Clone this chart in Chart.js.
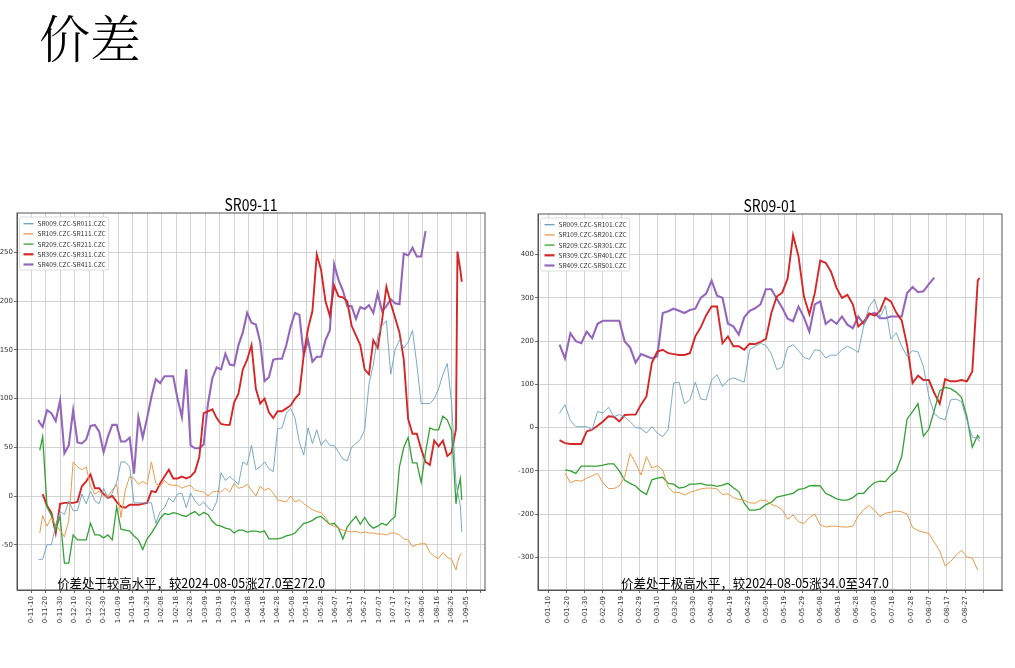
<!DOCTYPE html>
<html>
<head>
<meta charset="utf-8">
<script src="https://cdn.jsdelivr.net/npm/chart.js@4.4.1/dist/chart.umd.min.js"></script>
<style>
  body { margin: 0; width: 1015px; height: 668px; background: #fff; position: relative; overflow: hidden; }
  #title { position: absolute; left: 39px; top: 11px; font-family: "Noto Serif CJK SC", "Noto Sans CJK SC", serif; font-size: 51px; font-weight: 300; line-height: 1; color: #000; }
  canvas { position: absolute; }
  #c1 { left: 0; top: 190px; }
  #c2 { left: 510px; top: 190px; }
</style>
</head>
<body>
<div id="title">价差</div>
<canvas id="c1" width="500" height="450"></canvas>
<canvas id="c2" width="505" height="450"></canvas>
<script>
const CJK = '"Noto Sans CJK SC", sans-serif';

// ---- SR09-11 : days counted from 0-11-10 ----
const labels1 = ['SR009.CZC-SR011.CZC', 'SR109.CZC-SR111.CZC', 'SR209.CZC-SR211.CZC', 'SR309.CZC-SR311.CZC', 'SR409.CZC-SR411.CZC'];
const ticks1 = ['0-11-10', '0-11-20', '0-11-30', '0-12-10', '0-12-20', '0-12-30', '1-01-09', '1-01-19', '1-01-29', '1-02-08',
  '1-02-18', '1-02-28', '1-03-09', '1-03-19', '1-03-29', '1-04-08', '1-04-18', '1-04-28', '1-05-08', '1-05-18',
  '1-05-28', '1-06-07', '1-06-17', '1-06-27', '1-07-07', '1-07-17', '1-07-27', '1-08-06', '1-08-16', '1-08-26', '1-09-05'];
const yTicks1 = [-50, 0, 50, 100, 150, 200, 250];
const days1 = [
  5, 6, 8, 11, 14, 17, 20, 23, 26, 29,
  32, 35, 38, 41, 44, 47, 50, 53, 56, 59,
  62, 65, 68, 71, 74, 77, 80, 83, 86, 89,
  92, 95, 98, 101, 104, 107, 110, 113, 116, 119,
  122, 125, 128, 131, 134, 137, 140, 143, 146, 149,
  152, 155, 158, 161, 164, 167, 170, 173, 176, 179,
  182, 185, 188, 191, 194, 197, 200, 203, 206, 209,
  212, 215, 218, 221, 224, 227, 230, 233, 236, 239,
  242, 245, 248, 251, 254, 257, 260, 263, 266, 269,
  272, 275, 278, 281, 284, 287, 290, 293, 294, 296,
  297];
const s1_009 = [
  -65, -65, -65, -50, -50, -30, -16, -19, -5, -15,
  -15, 2, -8, 5, -5, -8, 8, -2, 3, 14,
  35, 35, 30, -7, -7, -7, -7, -7, -28, -16,
  -12, -2, -6, 2, 3, -12, 3, -5, -10, -6,
  -12, -15, -6, 24, 16, 20, 16, 12, 35, 32,
  52, 27, 30, 35, 28, 25, 69, 70, 85, 90,
  80, 55, 42, 70, 54, 68, 52, 58, 52, 52,
  45, 38, 36, 50, 54, 58, 68, 115, 135, 164,
  175, 180, 125, 150, 160, 152, 158, 170, 135, 95,
  95, 95, 100, 110, 125, 136, 95, 13, 5, -10,
  -37];
const s1_109 = [
  null, -38, -20, -31, -22, -30, -35, -42, -25, 35,
  30, 27, 30, 10, 2, 5, 0, 0, 6, 12,
  -22, 6, 20, 18, 12, 15, 12, 35, 13, 10,
  16, 12, 11, 11, 8, 10, 11, 6, 5, 4,
  0, 4, 5, 4, 8, 4, 13, 8, 9, 12,
  6, 0, 10, 6, 8, 3, -4, -5, -6, 0,
  -6, -4, -8, -11, -14, -16, -17, -22, -29, -31,
  -33, -35, -36, -37, -36, -38, -37, -38, -38, -39,
  -39, -40, -38, -38, -40, -44, -45, -52, -50, -49,
  -49, -58, -62, -64, -58, -63, -65, -76, -68, -60,
  -59];
const s1_209 = [
  null, 47, 61, -11, -20, -35, -21, -69, -69, -40,
  -45, -45, -45, -28, -40, -40, -43, -40, -45, -11,
  -34, -35, -36, -41, -45, -55, -44, -38, -31, -23,
  -18, -19, -17, -18, -20, -21, -18, -16, -20, -17,
  -19, -26, -30, -31, -33, -34, -38, -35, -35, -37,
  -36, -36, -37, -36, -44, -44, -44, -43, -41, -40,
  -38, -33, -28, -27, -25, -22, -21, -25, -29, -28,
  -33, -44, -32, -26, -21, -29, -22, -29, -33, -31,
  -28, -30, -25, -21, 30, 50, 60, 34, 34, 14,
  45, 70, 68, 68, 82, 78, 67, -8, 5, 18,
  -4];
const s1_309 = [
  null, null, 2, -10, -17, -38, -8, -7, -7, -7,
  -6, 10, 15, 22, 8, 8, 2, -2, 0, -6,
  -11, -12, -9, -9, -9, -8, -7, 5, 4, 13,
  20, 27, 18, 18, 20, 18, 20, 25, 40, 85,
  87, 89, 80, 74, 73, 73, 96, 105, 130, 140,
  155, 110, 95, 100, 86, 80, 87, 87, 90, 93,
  100, 105, 145, 172, 190, 248, 232, 200, 185, 216,
  205, 204, 200, 175, 165, 155, 130, 125, 160, 152,
  180, 215, 198, 183, 168, 140, 79, 64, 64, 48,
  35, 32, 57, 51, 57, 41, 45, 69, 251, 232,
  220];
const s1_409 = [
  78, 75, 71, 88, 85, 77, 98, 44, 52, 88,
  55, 54, 58, 72, 73, 66, 45, 61, 73, 73,
  56, 56, 60, 23, 81, 60, 80, 102, 120, 116,
  123, 123, 123, 100, 81, 130, 52, 49, 49, 53,
  95, 121, 132, 130, 146, 135, 134, 155, 168, 188,
  178, 176, 158, 118, 122, 140, 141, 141, 155, 174,
  188, 186, 145, 160, 138, 143, 143, 160, 170, 238,
  222, 211, 195, 195, 182, 194, 192, 196, 188, 208,
  190, 195, 202, 198, 197, 249, 247, 255, 246, 246,
  272, null, null, null, null, null, null, null, null, null,
  null];

// ---- SR09-01 : days counted from 0-01-10 ----
const labels2 = ['SR009.CZC-SR101.CZC', 'SR109.CZC-SR201.CZC', 'SR209.CZC-SR301.CZC', 'SR309.CZC-SR401.CZC', 'SR409.CZC-SR501.CZC'];
const ticks2 = ['0-01-10', '0-01-20', '0-01-30', '0-02-09', '0-02-19', '0-02-29', '0-03-10', '0-03-20', '0-03-30', '0-04-09',
  '0-04-19', '0-04-29', '0-05-09', '0-05-19', '0-05-29', '0-06-08', '0-06-18', '0-06-28', '0-07-08', '0-07-18',
  '0-07-28', '0-08-07', '0-08-17', '0-08-27'];
const yTicks2 = [-300, -200, -100, 0, 100, 200, 300, 400];
const days2 = [
  6, 9, 12, 15, 18, 21, 24, 27, 30, 33,
  36, 39, 42, 45, 48, 51, 54, 57, 60, 63,
  66, 69, 72, 75, 78, 81, 84, 87, 90, 93,
  96, 99, 102, 105, 108, 111, 114, 117, 120, 123,
  126, 129, 132, 135, 138, 141, 144, 147, 150, 153,
  156, 159, 162, 165, 168, 171, 174, 177, 180, 183,
  186, 189, 192, 195, 198, 201, 204, 207, 210, 213,
  216, 219, 222, 225, 228, 231, 234, 237, 238];
const s2_009 = [
  33, 53, 16, 2, 2, 2, -5, 37, 34, 47,
  25, 30, 24, 14, 0, -2, -13, 2, -13, -21,
  -5, 103, 105, 55, 64, 105, 66, 64, 110, 122,
  95, 110, 115, 110, 105, 180, 188, 195, 190, 170,
  134, 140, 185, 192, 178, 162, 158, 180, 178, 161,
  168, 167, 180, 188, 182, 174, 235, 280, 297, 255,
  282, 205, 219, 188, 165, 178, 175, 141, 72, 32,
  22, 18, 64, 66, 60, 18, -22, -25, -33];
const s2_109 = [
  null, -105, -128, -122, -124, -117, -112, -106, -128, -141,
  -141, -135, -114, -60, -82, -110, -67, -94, -88, -98,
  -138, -150, -150, -156, -150, -146, -142, -140, -140, -142,
  -155, -153, -162, -166, -168, -174, -175, -168, -168, -178,
  -182, -190, -212, -202, -218, -222, -208, -200, -225, -230,
  -228, -228, -230, -230, -228, -204, -190, -180, -191, -206,
  -198, -196, -193, -195, -200, -231, -238, -242, -245, -265,
  -285, -320, -310, -295, -284, -299, -302, -330, null];
const s2_209 = [
  null, -98, -100, -106, -89, -89, -89, -89, -87, -84,
  -84, -100, -122, -129, -135, -147, -155, -121, -117, -115,
  -129, -131, -140, -138, -131, -131, -129, -133, -133, -136,
  -133, -129, -139, -148, -175, -191, -191, -188, -178, -173,
  -161, -158, -155, -152, -143, -141, -135, -134, -135, -152,
  -158, -165, -168, -168, -162, -152, -152, -138, -127, -124,
  -125, -110, -100, -67, 20, 37, 55, -20, -4, 40,
  85, 93, 90, 82, 70, 25, -45, -18, -25];
const s2_309 = [
  -29, -36, -38, -38, -38, -9, -5, 4, 14, 26,
  25, 14, 29, 30, 30, 53, 72, 150, 176, 180,
  172, 170, 168, 168, 172, 211, 232, 260, 280, 280,
  195, 211, 188, 188, 180, 194, 193, 198, 205, 265,
  303, 312, 345, 445, 396, 303, 262, 311, 386, 381,
  360, 323, 300, 307, 285, 234, 245, 264, 259, 270,
  300, 292, 266, 248, 190, 103, 120, 110, 110, 80,
  55, 112, 107, 107, 110, 107, 130, 340, 346];
const s2_409 = [
  192, 160, 218, 200, 195, 222, 207, 240, 247, 247,
  247, 247, 199, 185, 150, 170, 165, 160, 165, 265,
  269, 275, 270, 265, 272, 275, 300, 310, 340, 305,
  300, 240, 234, 215, 255, 270, 276, 285, 320, 320,
  298, 277, 252, 246, 280, 255, 222, 285, 292, 240,
  250, 240, 257, 238, 230, 257, 240, 261, 265, 253,
  253, 257, 257, 257, 311, 325, 313, 315, 332, 347,
  null, null, null, null, null, null, null, null, null];

const colors = ['#6c9fbf', '#eb9a4a', '#35a035', '#d62728', '#9467bd'];
const widths = [0.9, 1, 1.3, 1.9, 2.1];

// narrow-looking text: squeeze horizontally around x
function squeezedText(ctx, text, x, y, sx) {
  ctx.save();
  ctx.translate(x, y);
  ctx.scale(sx, 1);
  ctx.fillText(text, 0, 0);
  ctx.restore();
}

const framePlugin = {
  id: 'frame',
  afterDraw(chart, args, opts) {
    const { ctx, chartArea: a } = chart;
    ctx.save();
    ctx.strokeStyle = '#555';
    ctx.lineWidth = 1;
    ctx.strokeRect(a.left, a.top, a.right - a.left, a.bottom - a.top);

    // title over the plot area
    ctx.fillStyle = '#000';
    ctx.font = '17px ' + CJK;
    ctx.textAlign = 'center';
    ctx.textBaseline = 'alphabetic';
    squeezedText(ctx, opts.title, (a.left + a.right) / 2, a.top - 2.5, 0.82);

    // note text at the bottom of the plot
    ctx.font = '13px ' + CJK;
    ctx.textBaseline = 'bottom';
    ctx.textAlign = 'left';
    squeezedText(ctx, opts.note, chart.scales.x.getPixelForValue(opts.noteDay), a.bottom, 0.955);

    // legend box, top-left inside the plot
    const sets = chart.data.datasets;
    ctx.font = '6.6px ' + CJK;
    const tw = Math.max(...sets.map(d => ctx.measureText(d.label).width));
    const bx = a.left + 2.5, by = a.top + 4, bw = 18 + tw + 3, bh = 53;
    ctx.fillStyle = 'rgba(255,255,255,0.85)';
    ctx.strokeStyle = '#d4d4d4';
    ctx.lineWidth = 0.8;
    ctx.beginPath();
    ctx.roundRect(bx, by, bw, bh, 2);
    ctx.fill();
    ctx.stroke();
    ctx.textBaseline = 'middle';
    sets.forEach((d, i) => {
      const y = by + 6.7 + i * 10.2;
      ctx.strokeStyle = d.borderColor;
      ctx.lineWidth = i < 3 ? 1.3 : 2.2;
      ctx.beginPath();
      ctx.moveTo(bx + 4, y);
      ctx.lineTo(bx + 14, y);
      ctx.stroke();
      ctx.fillStyle = '#333';
      ctx.fillText(d.label, bx + 18, y);
    });
    ctx.restore();
  }
};

function makeChart(id, o) {
  const datasets = o.series.map((vals, i) => ({
    label: o.labels[i],
    data: o.days.map((d, j) => ({ x: d, y: vals[j] })),
    borderColor: colors[i],
    borderWidth: widths[i],
    pointRadius: 0,
    tension: 0,
    fill: false
  }));
  return new Chart(document.getElementById(id), {
    type: 'line',
    data: { datasets },
    options: {
      responsive: false,
      animation: false,
      events: [],
      layout: { padding: { left: 0, right: o.padRight, top: o.padTop, bottom: 0 } },
      plugins: {
        legend: { display: false },
        tooltip: { enabled: false },
        title: { display: false },
        frame: { title: o.title, note: o.note, noteDay: o.noteDay }
      },
      scales: {
        x: {
          type: 'linear', min: o.xMin, max: o.xMax,
          afterBuildTicks: s => { s.ticks = o.ticks.concat(['']).map((t, i) => ({ value: i * 10 })); },
          afterFit: s => { s.height = 50; },
          ticks: {
            autoSkip: false, minRotation: 90, maxRotation: 90, padding: 3, color: '#333',
            font: { family: 'DejaVu Sans', size: 7 },
            callback: (v, i) => o.ticks[i] || ''
          },
          grid: { color: '#c8c8c8', lineWidth: 0.8, tickLength: 3, tickColor: '#444' },
          border: { display: true, color: '#555', width: 1 }
        },
        y: {
          type: 'linear', min: o.yMin, max: o.yMax,
          afterBuildTicks: s => { s.ticks = o.yTicks.map(v => ({ value: v })); },
          afterFit: s => { s.width = o.yWidth; },
          ticks: { padding: 1, color: '#333', font: { family: 'DejaVu Sans', size: 7 }, callback: v => String(v) },
          grid: { color: '#c8c8c8', lineWidth: 0.8, tickLength: 3, tickColor: '#444' },
          border: { display: true, color: '#555', width: 1 }
        }
      }
    },
    plugins: [framePlugin]
  });
}

makeChart('c1', {
  title: 'SR09-11', padTop: 23, labels: labels1, days: days1,
  series: [s1_009, s1_109, s1_209, s1_309, s1_409],
  ticks: ticks1, yTicks: yTicks1,
  xMin: -9.7, xMax: 313, yMin: -96.5, yMax: 290.6, yWidth: 17, padRight: 15,
  note: '价差处于较高水平，较2024-08-05涨27.0至272.0', noteDay: 18
});

makeChart('c2', {
  title: 'SR09-01', padTop: 24, labels: labels2, days: days2,
  series: [s2_009, s2_109, s2_209, s2_309, s2_409],
  ticks: ticks2, yTicks: yTicks2,
  xMin: -5.9, xMax: 250.4, yMin: -375.7, yMax: 494, yWidth: 28, padRight: 13,
  note: '价差处于极高水平，较2024-08-05涨34.0至347.0', noteDay: 40
});
</script>
</body>
</html>
